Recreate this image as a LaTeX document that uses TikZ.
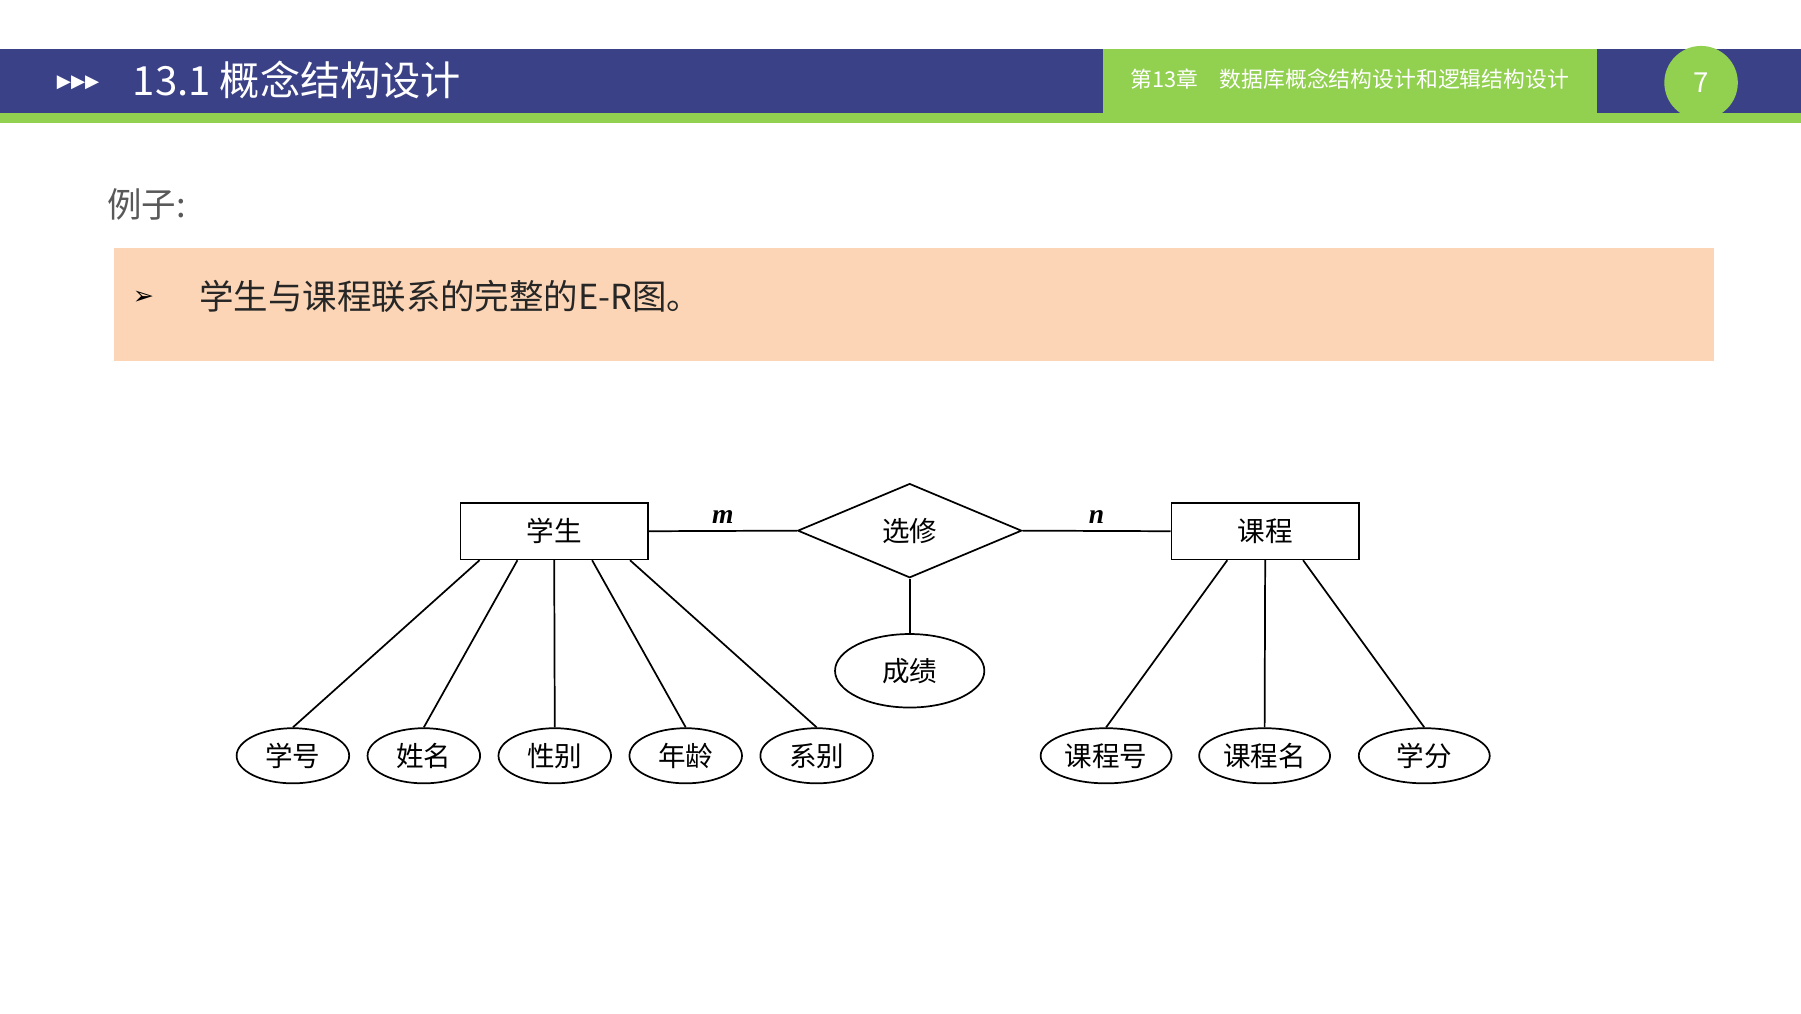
\documentclass[tikz,border=0pt]{standalone}
\usepackage{fontspec}
\setmainfont{Noto Sans CJK SC}
\newfontfamily\sym{DejaVu Sans}
\newfontfamily\ser{Liberation Serif}
\usetikzlibrary{shapes.geometric}
\definecolor{hblue}{HTML}{3B4187}
\definecolor{hgreen}{HTML}{92D050}
\definecolor{peach}{HTML}{FBD5B5}
\begin{document}
\begin{tikzpicture}[x=1pt,y=-1pt,
  ent/.style={draw,line width=1.5pt,minimum width=163pt,minimum height=49pt,font=\fontsize{24}{26}\selectfont,inner sep=0},
  att/.style={draw,line width=1.5pt,ellipse,minimum width=98pt,minimum height=48pt,font=\fontsize{24}{26}\selectfont,inner sep=0},
  watt/.style={att,minimum width=114pt},
  ln/.style={line width=1.5pt}]
\useasboundingbox (0,0) rectangle (1568,882);
\fill[white] (0,0) rectangle (1568,882);
\fill[hblue] (0,43) rectangle (1568,98);
\fill[hgreen] (0,98) rectangle (1568,107);
\fill[hgreen] (960,43) rectangle (1390,107);
\fill[hgreen] (1481,72) circle (32);
\node[white,font=\sym\fontsize{16}{18}\selectfont,anchor=west] (tri) at (46,72) {▶▶▶};
\node[white,font=\fontsize{35}{37}\selectfont,anchor=west] (title) at (112,70) {13.1 概念结构设计};
\node[white,font=\fontsize{19}{21}\selectfont] (chap) at (1175,69) {第13章\quad 数据库概念结构设计和逻辑结构设计};
\node[white,font=\fontsize{24}{26}\selectfont] (pg) at (1481,72) {7};
\node[gray!70!black,font=\fontsize{30}{32}\selectfont,anchor=west] (ex) at (90,178) {例子:};
\fill[peach] (99,216) rectangle (1492,314);
\node[font=\sym\fontsize{22}{24}\selectfont] (bul) at (125,259) {➢};
\node[black!85,font=\fontsize{30}{32}\selectfont,anchor=west] (txt) at (170,258) {学生与课程联系的完整的E-R图。};
\node[ent] (s) at (482.5,462.5) {学生};
\node[ent] (c) at (1101.5,462.5) {课程};
\node[draw,line width=1.5pt,diamond,aspect=2.38,minimum width=195pt,minimum height=82pt,inner sep=0,font=\fontsize{24}{26}\selectfont] (r) at (792,462) {选修};
\node[att,minimum width=130pt,minimum height=64pt] (g) at (792,584) {成绩};
\foreach \n/\x/\t in {a1/255/学号,a2/369/姓名,a3/483/性别,a4/597/年龄,a5/711/系别}
  \node[att] (\n) at (\x,658) {\t};
\foreach \n/\x/\t in {b1/963/课程号,b2/1101/课程名,b3/1240/学分}
  \node[watt] (\n) at (\x,658) {\t};
\draw[ln] (s.east) -- (r.west) node[pos=0.5,above=2pt,font=\ser\bfseries\itshape\fontsize{24}{26}\selectfont] {m};
\draw[ln] (r.east) -- (c.west) node[pos=0.5,above=2pt,font=\ser\bfseries\itshape\fontsize{24}{26}\selectfont] {n};
\draw[ln] (r.south) -- (g.north);
\draw[ln] ([xshift=-65pt]s.south) -- (a1.north);
\draw[ln] ([xshift=-32pt]s.south) -- (a2.north);
\draw[ln] ([xshift=0pt]s.south) -- (a3.north);
\draw[ln] ([xshift=33pt]s.south) -- (a4.north);
\draw[ln] ([xshift=66pt]s.south) -- (a5.north);
\draw[ln] ([xshift=-33pt]c.south) -- (b1.north);
\draw[ln] (c.south) -- (b2.north);
\draw[ln] ([xshift=33pt]c.south) -- (b3.north);
\end{tikzpicture}
\end{document}
